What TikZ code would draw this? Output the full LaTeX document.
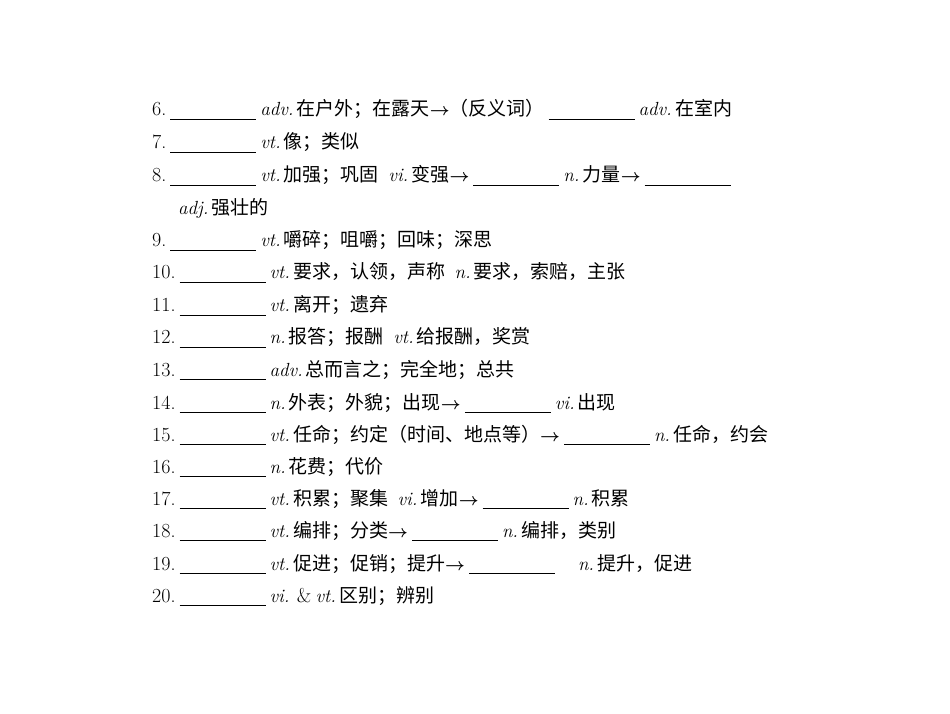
\documentclass[tikz,border=0pt]{standalone}
\usepackage{amsmath,bm}
\usepackage{fontspec}
\setmainfont{Noto Sans CJK SC}
\newfontfamily\lm{Latin Modern Roman}
\newcommand{\bk}{\hspace{4pt}\rule[-4pt]{86pt}{0.9pt}\hspace{4pt}}
\newcommand{\ps}[1]{{\lm\fontsize{19}{20}\selectfont\itshape #1}\,}
\newcommand{\nm}[1]{{\lm\fontsize{20}{21}\selectfont #1}}
\newcommand{\ar}{$\boldsymbol{\rightarrow}$}
\begin{document}
\begin{tikzpicture}[x=1pt,y=1pt,
  ln/.style={anchor=base west,inner sep=0pt,font=\fontsize{19}{21}\selectfont}]
\useasboundingbox (0,0) rectangle (950,713);
\fill[white] (0,0) rectangle (950,713);
\node[ln] (l6) at (152,713-116) {\nm{6.}\bk\ps{adv.}在户外；在露天\ar（反义词）\bk\ps{adv.}在室内};
\node[ln] (l7) at (152,713-149) {\nm{7.}\bk\ps{vt.}像；类似};
\node[ln] (l8) at (152,713-182) {\nm{8.}\bk\ps{vt.}加强；巩固\enspace\ps{vi.}变强\ar\bk\ps{n.}力量\ar\bk};
\node[ln] (l8b) at (178,713-215) {\ps{adj.}强壮的};
\node[ln] (l9) at (152,713-247) {\nm{9.}\bk\ps{vt.}嚼碎；咀嚼；回味；深思};
\node[ln] (l10) at (152,713-279) {\nm{10.}\bk\ps{vt.}要求，认领，声称\enspace\ps{n.}要求，索赔，主张};
\node[ln] (l11) at (152,713-312) {\nm{11.}\bk\ps{vt.}离开；遗弃};
\node[ln] (l12) at (152,713-344) {\nm{12.}\bk\ps{n.}报答；报酬\enspace\ps{vt.}给报酬，奖赏};
\node[ln] (l13) at (152,713-376) {\nm{13.}\bk\ps{adv.}总而言之；完全地；总共};
\node[ln] (l14) at (152,713-409) {\nm{14.}\bk\ps{n.}外表；外貌；出现\ar\bk\ps{vi.}出现};
\node[ln] (l15) at (152,713-441) {\nm{15.}\bk\ps{vt.}任命；约定（时间、地点等）\ar\bk\ps{n.}任命，约会};
\node[ln] (l16) at (152,713-473) {\nm{16.}\bk\ps{n.}花费；代价};
\node[ln] (l17) at (152,713-505) {\nm{17.}\bk\ps{vt.}积累；聚集\enspace\ps{vi.}增加\ar\bk\ps{n.}积累};
\node[ln] (l18) at (152,713-537) {\nm{18.}\bk\ps{vt.}编排；分类\ar\bk\ps{n.}编排，类别};
\node[ln] (l19) at (152,713-570) {\nm{19.}\bk\ps{vt.}促进；促销；提升\ar\bk\quad\ps{n.}提升，促进};
\node[ln] (l20) at (152,713-602) {\nm{20.}\bk\ps{vi.}\ \nm{\&}\ \ps{vt.}区别；辨别};
\end{tikzpicture}
\end{document}
